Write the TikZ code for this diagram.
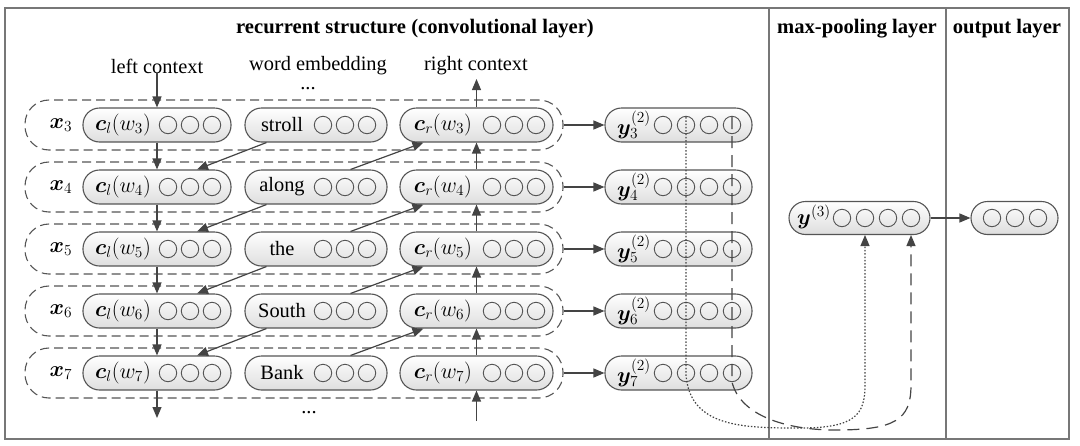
\documentclass[tikz,border=0pt]{standalone}
\usepackage{fix-cm}
\usepackage{fontspec}
\setmainfont{Liberation Serif}
\usepackage{bm}
\usetikzlibrary{arrows.meta,calc}
\definecolor{linec}{HTML}{555555}
\definecolor{arrc}{HTML}{444444}
\definecolor{framec}{HTML}{777777}
\newcommand\mathsz{\fontsize{22}{26}\selectfont}
\begin{document}
\begin{tikzpicture}[x=1pt,y=-1pt,
  font=\fontsize{20.4}{24}\selectfont,
  unit/.style={draw=linec, line width=1.1pt, rounded corners=16.5pt, minimum height=34pt, inner sep=0pt, top color=white, bottom color=black!13},
  rowbox/.style={draw=linec, dash pattern=on 9pt off 5pt, line width=1.1pt, rounded corners=24pt, minimum width=538pt, minimum height=50pt, inner sep=0pt},
  neuron/.style={draw=linec, line width=0.9pt},
  arr/.style={draw=arrc, line width=1.2pt, -{Triangle[length=11pt,width=9pt]}},
  lab/.style={inner sep=0pt},
  mlab/.style={inner sep=0pt, font=\mathsz},
  ttl/.style={inner sep=0pt, font=\fontsize{20.6}{24}\selectfont\bfseries},
  frame/.style={draw=framec, line width=1.2pt},
  dotline/.style={draw=arrc, line width=1.2pt, dash pattern=on 1.5pt off 1.8pt, -{Triangle[length=11pt,width=9pt]}},
  dashline/.style={draw=arrc, line width=1.2pt, dash pattern=on 12pt off 7pt, -{Triangle[length=11pt,width=9pt]}}
]
\useasboundingbox (0,0) rectangle (1080,445);
% frame and dividers
\draw[frame] (5,8) rectangle (1069,439);
\draw[frame] (769,8) -- (769,439);
\draw[frame] (946,8) -- (946,439);
% titles
\node[ttl] (t1) at (415,29) {recurrent structure (convolutional layer)};
\node[ttl] (t2) at (857,29) {max-pooling layer};
\node[ttl] (t3) at (1007,29) {output layer};
\node[lab] (lc) at (157,66) {left context};
\node[lab] (we) at (318,66) {word embedding};
\node[lab] (rc) at (476,66) {right context};
\node[lab] (dtop) at (308,89) {...};
\node[lab] (dbot) at (309,413) {...};
% rows
\foreach \k/\w in {3/stroll,4/along,5/the,6/South,7/Bank}{
  \pgfmathsetmacro\yy{125+(\k-3)*62}
  \node[rowbox] (row\k) at (294,\yy) {};
  \node[mlab] (x\k) at (61,\yy) {$\bm{x}_\k$};
  \node[unit, minimum width=148pt] (cl\k) at (157,\yy) {};
  \node[mlab] (cll\k) at (123,\yy) {$\bm{c}_l(w_\k)$};
  \foreach \cx in {168,190,212} \draw[neuron] (\cx,\yy) circle[radius=8.7pt];
  \node[unit, minimum width=142pt] (w\k) at (316,\yy) {};
  \node[lab] (wl\k) at (282,\yy) {\w};
  \foreach \cx in {323,345,367} \draw[neuron] (\cx,\yy) circle[radius=8.7pt];
  \node[unit, minimum width=153pt] (cr\k) at (476.5,\yy) {};
  \node[mlab] (crl\k) at (443,\yy) {$\bm{c}_r(w_\k)$};
  \foreach \cx in {492,514,536} \draw[neuron] (\cx,\yy) circle[radius=8.7pt];
  \node[unit, minimum width=147pt] (ya\k) at (678.5,\yy) {};
  \node[mlab] (yal\k) at (634,\yy) {$\bm{y}_\k^{(2)}$};
  \foreach \cx in {663,686,709,732} \draw[neuron] (\cx,\yy) circle[radius=8.7pt];
  \draw[arr] (row\k.east) -- (ya\k.west);
}
% max pooling and output nodes
\node[unit, minimum width=141pt, minimum height=33pt] (yb) at (859.5,218) {};
\node[mlab] (ybl) at (814,217) {$\bm{y}^{(3)}$};
\foreach \cx in {842,865,888,911} \draw[neuron] (\cx,218) circle[radius=8.7pt];
\node[unit, minimum width=87pt, minimum height=33pt] (outn) at (1014.5,218) {};
\foreach \cx in {992,1015,1038} \draw[neuron] (\cx,218) circle[radius=8.7pt];
\draw[arr] (yb.east) -- (outn.west);
% left context chain
\draw[arr] (lc.south) -- (cl3.north);
\foreach \k in {3,4,5,6}{
  \pgfmathtruncatemacro\kn{\k+1}
  \draw[arr] (cl\k.south) -- (cl\kn.north);
  \draw[arr] ([xshift=22pt]w\k.south west) -- ([xshift=40pt]cl\kn.north);
}
\coordinate (clend) at (157,418);
\draw[arr] (cl7.south) -- (clend);
% right context chain
\coordinate (crstart) at (476.5,421);
\coordinate (crend) at (476.5,79);
\draw[arr] (crstart) -- (cr7.south);
\draw[arr] (cr3.north) -- (crend);
\foreach \k in {4,5,6,7}{
  \pgfmathtruncatemacro\kp{\k-1}
  \draw[arr] (cr\k.north) -- (cr\kp.south);
  \draw[arr] ([xshift=-37pt]w\k.north east) -- ([xshift=-53pt]cr\kp.south);
}
% max pooling connectors
\coordinate (dotS) at (686,117);
\coordinate (dashS) at (732,117);
\coordinate (dotE) at (865,235);
\coordinate (dashE) at (911,235);
\draw[dotline] (dotS) -- (686,375) .. controls (690,428) and (745,428) .. (800,428) .. controls (855,428) and (865,415) .. (865,385) -- (dotE);
\draw[dashline] (dashS) -- (732,382) .. controls (740,415) and (785,430) .. (835,430) .. controls (895,430) and (911,420) .. (911,385) -- (dashE);
\end{tikzpicture}
\end{document}
